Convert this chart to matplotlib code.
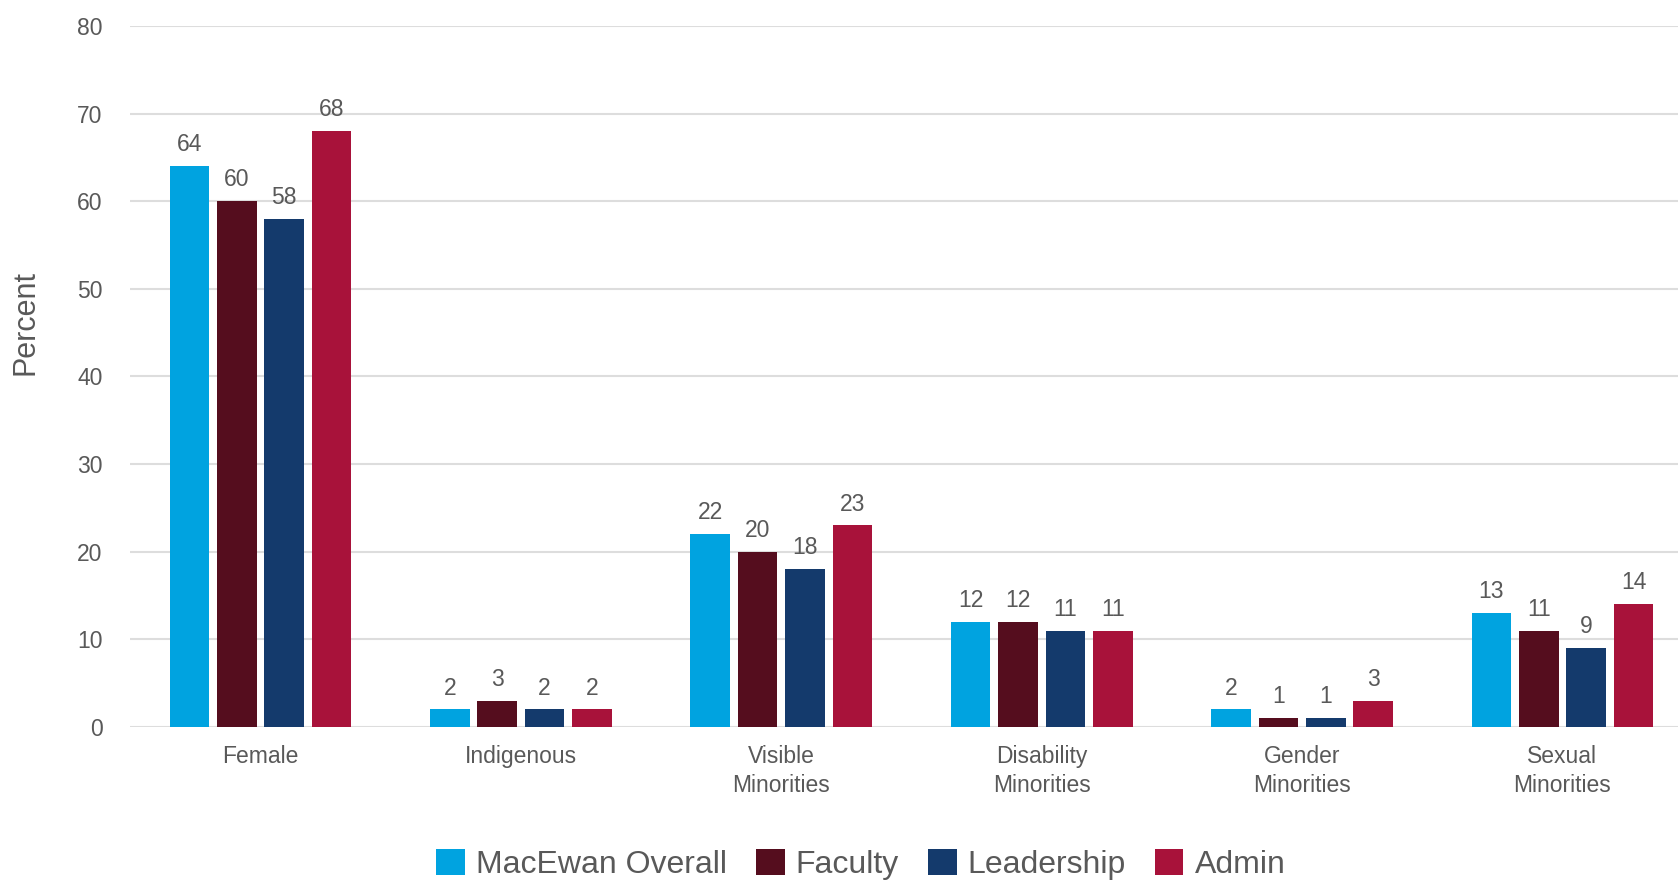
import matplotlib
matplotlib.use("Agg")
import matplotlib.pyplot as plt
import numpy as np

categories = ["Female", "Indigenous", "Visible\nMinorities", "Disability\nMinorities",
              "Gender\nMinorities", "Sexual\nMinorities"]
series_names = ["MacEwan Overall", "Faculty", "Leadership", "Admin"]
macewan_overall = [64, 2, 22, 12, 2, 13]
faculty = [60, 3, 20, 12, 1, 11]
leadership = [58, 2, 18, 11, 1, 9]
admin = [68, 2, 23, 11, 3, 14]
y_ticks = [0, 10, 20, 30, 40, 50, 60, 70, 80]

colors = ["#00A3E0", "#550D1E", "#143A6C", "#A8123A"]
text_color = "#595959"
grid_color = "#DDDDDD"

plt.rcParams['font.family'] = ['Liberation Sans', 'DejaVu Sans']

fig = plt.figure(figsize=(16.78, 8.8), dpi=100)
ax = fig.add_axes([0.0777, 0.174, 0.931, 0.7965])

series = [macewan_overall, faculty, leadership, admin]
x = np.arange(len(categories))
step = 0.182
width = 0.152
for i, (vals, c, name) in enumerate(zip(series, colors, series_names)):
    pos = x + (i - 1.5) * step
    ax.bar(pos, vals, width=width, color=c, label=name, zorder=3)
    for p, v in zip(pos, vals):
        ax.annotate(str(v), (p, v), xytext=(0, 7), textcoords="offset points",
                    ha="center", va="bottom", fontsize=16.5, color=text_color)

ax.set_xlim(-0.5, len(categories) - 0.5)
ax.set_ylim(0, 80)
ax.set_yticks(y_ticks)
ax.set_xticks(x)
ax.set_xticklabels(categories, fontsize=16.5, color=text_color, linespacing=1.35)
ax.tick_params(axis="y", labelsize=16.5, labelcolor=text_color, length=0, pad=20)
ax.tick_params(axis="x", length=0, pad=13)
ax.yaxis.grid(True, color=grid_color, linewidth=1.5, zorder=0)
ax.set_axisbelow(True)
for s in ax.spines.values():
    s.set_visible(False)

fig.text(0.015, 0.634, "Percent", rotation=90, fontsize=22, color=text_color,
         ha="center", va="center")

leg = fig.legend(loc="center", bbox_to_anchor=(0.513, 0.018), ncol=4, frameon=False,
                 fontsize=23, handlelength=0.9, handleheight=0.9, handletextpad=0.35,
                 columnspacing=0.9, borderaxespad=0)
for t in leg.get_texts():
    t.set_color(text_color)

fig.savefig("out.png", dpi=100)
